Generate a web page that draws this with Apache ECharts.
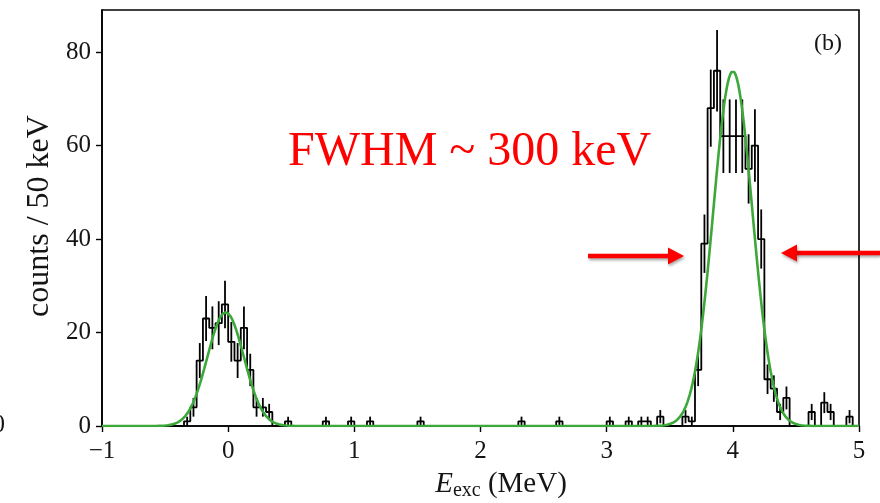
<!DOCTYPE html>
<html>
<head>
<meta charset="utf-8">
<script src="https://cdn.jsdelivr.net/npm/echarts@6/dist/echarts.min.js"></script>
<style>
  html, body { margin: 0; padding: 0; background: #fff; }
  #chart { width: 880px; height: 503px; }
</style>
</head>
<body>
<div id="chart"></div>
<script>
// Excitation-energy spectrum, 50 keV bins from -1 to 5 MeV
const binStart = -1;
const binWidth = 0.05;
const counts = [
  // -1 .. 0 MeV
  0, 0, 0, 0, 0, 0, 0, 0, 0, 0, 0, 0, 0, 1, 4, 14, 23, 21, 22, 26,
  // 0 .. 1 MeV
  18, 14, 21, 12, 4, 4, 3, 0, 0, 1, 0, 0, 0, 0, 0, 1, 0, 0, 0, 1,
  // 1 .. 2 MeV
  0, 0, 1, 0, 0, 0, 0, 0, 0, 0, 1, 0, 0, 0, 0, 0, 0, 0, 0, 0,
  // 2 .. 3 MeV
  0, 0, 0, 0, 0, 0, 1, 0, 0, 0, 0, 0, 1, 0, 0, 0, 0, 0, 0, 0,
  // 3 .. 4 MeV
  1, 0, 0, 1, 0, 1, 1, 0, 2, 0, 0, 0, 2, 1, 12, 39, 68, 76, 62, 62,
  // 4 .. 5 MeV
  62, 62, 55, 60, 40, 10, 8, 3, 6, 0, 0, 0, 3, 0, 5, 3, 0, 0, 2, 0
];

// Gaussian fit of the two peaks
const fitCentre = [-0.02, 4.0];
const fitHeight = [24.3, 75.9];
const fitSigma = [0.145, 0.155];

const xTicks = [-1, 0, 1, 2, 3, 4, 5];
const yTicks = [0, 20, 40, 60, 80];

// Step outline: each point is a bin's low edge, plus the closing edge
const stepData = counts.map((c, i) => [binStart + i * binWidth, c]);
stepData.push([binStart + counts.length * binWidth, counts[counts.length - 1]]);

// Poisson error bars at the bin centres
const errData = [];
counts.forEach((c, i) => {
  if (c > 0) {
    const e = Math.sqrt(c);
    errData.push([binStart + (i + 0.5) * binWidth, c - e, c + e]);
  }
});

// Fit curve sampled across the axis range
const fitData = [];
for (let k = 0; k <= 600; k++) {
  const x = -1 + k * 0.01;
  let y = 0;
  for (let p = 0; p < fitCentre.length; p++) {
    const d = (x - fitCentre[p]) / fitSigma[p];
    y += fitHeight[p] * Math.exp(-0.5 * d * d);
  }
  fitData.push([x, y]);
}

const serif = '"Liberation Serif", "Times New Roman", serif';
const ink = '#151515';
const chart = echarts.init(document.getElementById('chart'));

function arrow(tipX, y, tailX) {
  const dir = tailX > tipX ? 1 : -1;
  const headLen = 16, headHalf = 8.5;
  const shadow = { shadowBlur: 3, shadowOffsetX: 1, shadowOffsetY: 2, shadowColor: 'rgba(0,0,0,0.35)' };
  return {
    type: 'group',
    children: [
      { type: 'line', shape: { x1: tipX + dir * (headLen - 1), y1: y, x2: tailX, y2: y },
        style: Object.assign({ stroke: '#f00', lineWidth: 4.5 }, shadow) },
      { type: 'polygon', shape: { points: [[tipX, y], [tipX + dir * headLen, y - headHalf], [tipX + dir * headLen, y + headHalf]] },
        style: Object.assign({ fill: '#f00' }, shadow) }
    ]
  };
}

chart.setOption({
  animation: false,
  backgroundColor: '#fff',
  grid: { left: 102, right: 21, top: 10, bottom: 77, show: true, borderColor: '#000', borderWidth: 1.6, backgroundColor: 'transparent' },
  xAxis: {
    type: 'value', min: -1, max: 5, interval: 1,
    axisLine: { show: true, onZero: false, lineStyle: { color: '#000', width: 1.6 } },
    axisTick: { show: true, length: 6, lineStyle: { color: '#000', width: 1.4 } },
    splitLine: { show: false },
    axisLabel: {
      customValues: xTicks,
      fontFamily: serif, fontSize: 25, color: ink, margin: 13,
      formatter: v => String(v).replace('-', '\u2212')
    }
  },
  yAxis: {
    type: 'value', min: 0, max: 89, interval: 20,
    axisLine: { show: true, onZero: false, lineStyle: { color: '#000', width: 1.6 } },
    axisTick: { show: true, length: 6, customValues: yTicks, lineStyle: { color: '#000', width: 1.4 } },
    splitLine: { show: false },
    axisLabel: { customValues: yTicks, fontFamily: serif, fontSize: 25, color: ink, margin: 11 }
  },
  series: [
    {
      type: 'line', data: stepData, step: 'end', showSymbol: false,
      lineStyle: { color: '#000', width: 1.8 }, z: 3
    },
    {
      type: 'custom', data: errData, encode: { x: 0, y: [1, 2] }, z: 3,
      renderItem: (params, api) => {
        const a = api.coord([api.value(0), api.value(1)]);
        const b = api.coord([api.value(0), api.value(2)]);
        return { type: 'line', shape: { x1: a[0], y1: a[1], x2: b[0], y2: b[1] },
                 style: { stroke: '#000', lineWidth: 1.8 } };
      }
    },
    {
      type: 'line', data: fitData, showSymbol: false, smooth: false,
      lineStyle: { color: '#3ca83a', width: 2.6 }, z: 4
    }
  ],
  graphic: [
    { type: 'text', x: 40, y: 216, rotation: Math.PI / 2,
      style: { text: 'counts / 50 keV', font: '32px ' + serif, fill: ink, align: 'center', verticalAlign: 'middle' } },
    { type: 'text', x: 501, y: 484,
      style: {
        text: '{i|E}{s|exc}{n| (MeV)}', align: 'center', verticalAlign: 'middle',
        rich: {
          i: { font: 'italic 29px ' + serif, fill: ink, lineHeight: 34 },
          s: { font: '20px ' + serif, fill: ink, lineHeight: 20, verticalAlign: 'bottom' },
          n: { font: '29px ' + serif, fill: ink, lineHeight: 34 }
        }
      } },
    { type: 'text', x: 828, y: 44,
      style: { text: '(b)', font: '24px ' + serif, fill: ink, align: 'center', verticalAlign: 'middle' } },
    { type: 'text', x: 288, y: 152,
      style: { text: 'FWHM ~ 300 keV', font: '48px ' + serif, fill: '#f00', align: 'left', verticalAlign: 'middle' } },
    { type: 'text', x: 5, y: 425,
      style: { text: '0', font: '25px ' + serif, fill: ink, align: 'right', verticalAlign: 'middle' } },
    arrow(684, 256, 588),
    arrow(781, 253, 880)
  ]
});
</script>
</body>
</html>
